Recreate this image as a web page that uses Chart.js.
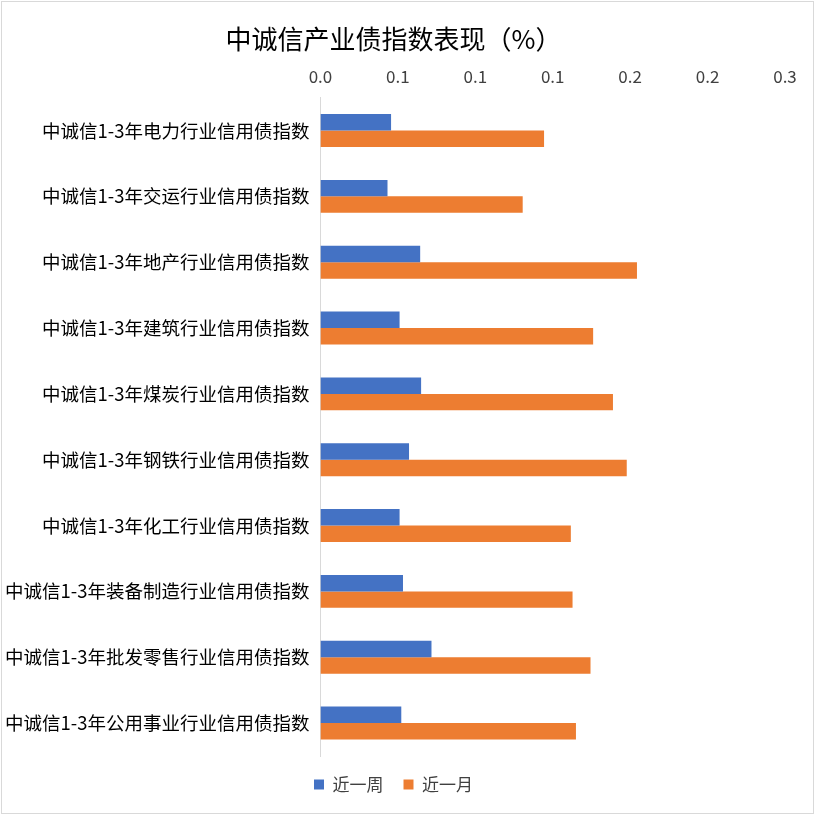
<!DOCTYPE html>
<html><head><meta charset="utf-8">
<script src="https://cdn.jsdelivr.net/npm/chart.js@4"></script>
<style>html,body{margin:0;background:#fff}#w{position:absolute;left:1px;top:1px;width:813px;height:813px;border:1px solid #d9d9d9;box-sizing:border-box}</style>
</head><body><div id="w"><canvas id="c"></canvas></div>
<script>
const categories=["中诚信1-3年电力行业信用债指数","中诚信1-3年交运行业信用债指数","中诚信1-3年地产行业信用债指数","中诚信1-3年建筑行业信用债指数","中诚信1-3年煤炭行业信用债指数","中诚信1-3年钢铁行业信用债指数","中诚信1-3年化工行业信用债指数","中诚信1-3年装备制造行业信用债指数","中诚信1-3年批发零售行业信用债指数","中诚信1-3年公用事业行业信用债指数"];
const weekValues=[0.0456,0.0433,0.0644,0.0511,0.065,0.0572,0.0511,0.0533,0.0717,0.0522];
const monthValues=[0.1444,0.1306,0.2044,0.1761,0.1889,0.1978,0.1617,0.1628,0.1744,0.165];
const tickLabelsShown=["0.0","0.1","0.1","0.1","0.2","0.2","0.3"];
const f='"Microsoft YaHei","Noto Sans CJK SC",sans-serif';
new Chart(document.getElementById('c'),{type:'bar',
data:{labels:categories,datasets:[
{label:'近一周',data:weekValues,backgroundColor:'#4472C4',barPercentage:1,categoryPercentage:0.5},
{label:'近一月',data:monthValues,backgroundColor:'#ED7D31',barPercentage:1,categoryPercentage:0.5}]},
options:{indexAxis:'y',responsive:true,maintainAspectRatio:false,animation:false,
layout:{padding:{left:0,right:28,top:8,bottom:10}},
plugins:{title:{display:true,text:'中诚信产业债指数表现（%）',font:{family:f,size:26,weight:'normal'},color:'#000',padding:{top:14,bottom:8}},
legend:{position:'bottom',labels:{font:{family:f,size:17},color:'#404040',boxWidth:10,boxHeight:10,padding:20}},tooltip:{enabled:false}},
scales:{x:{position:'top',min:0,max:0.3,ticks:{stepSize:0.05,font:{family:f,size:17},color:'#404040',callback:(v,i)=>tickLabelsShown[i]},grid:{display:false},border:{display:false}},
y:{ticks:{font:{family:f,size:18.5},color:'#000'},grid:{display:false},border:{color:'#d9d9d9'}}}}});
</script></body></html>
